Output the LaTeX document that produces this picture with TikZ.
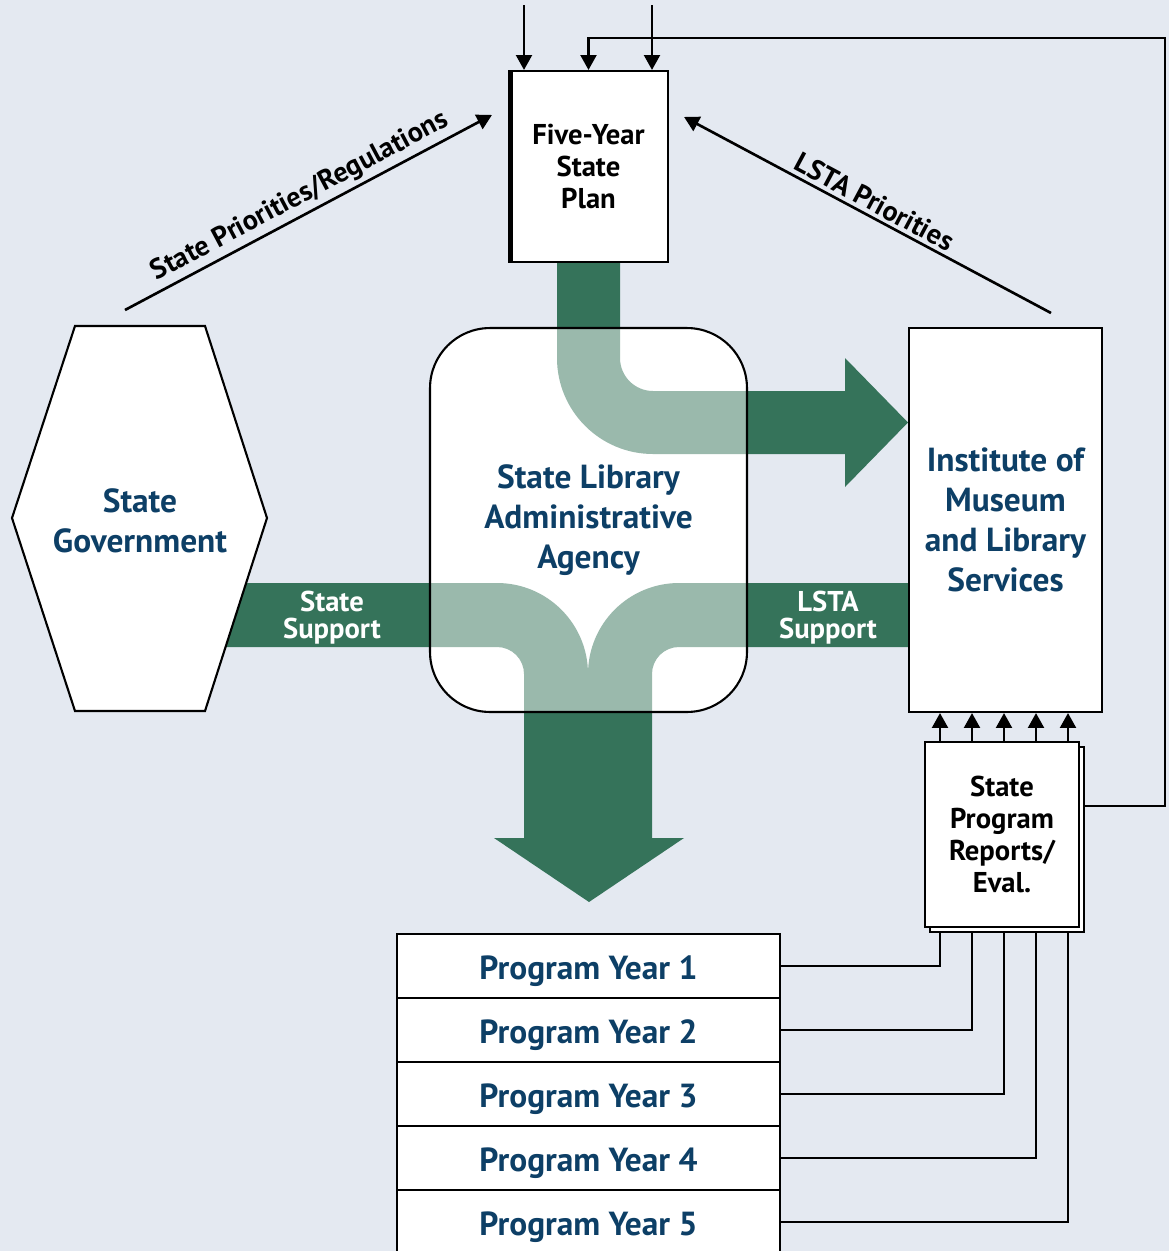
\documentclass[tikz,border=0pt]{standalone}
\usepackage{fontspec}
\setmainfont{PT Sans}
\usetikzlibrary{arrows.meta,calc,shadows}

\definecolor{bgblue}{HTML}{E4E9F1}
\definecolor{bandgreen}{HTML}{35735A}
\definecolor{titleblue}{HTML}{0D3F66}

\tikzset{
  boxline/.style={draw=black,line width=1.2pt,fill=white},
  conn/.style={line width=1.5pt},
  tipend/.style={conn,-{Triangle[length=8.5pt,width=9pt]}},
  tipstart/.style={conn,{Triangle[length=8.5pt,width=9pt]}-},
  bigtxt/.style={text=titleblue,font=\fontsize{19}{22.7}\selectfont\bfseries,align=center},
  smalltxt/.style={font=\fontsize{16.3}{18.1}\selectfont\bfseries,align=center},
  slopetxt/.style={font=\fontsize{16}{18}\selectfont\bfseries},
  bandtxt/.style={text=white,font=\fontsize{16.3}{15.4}\selectfont\bfseries,align=center},
  yearbox/.style={boxline,minimum width=7.66cm,minimum height=1.28cm,bigtxt,text height=19.5pt,text depth=4.5pt},
}

\begin{document}
\begin{tikzpicture}[x=0.02cm,y=-0.02cm]
\fill[bgblue] (0,0) rectangle (1169,1251);
\useasboundingbox (0,0) rectangle (1169,1251);

% white base of the agency box
\node[fill=white,rounded corners=1.2cm,minimum width=6.34cm,minimum height=7.68cm] (slaabg) at (588.5,520) {};

% green bands
\fill[bandgreen] (557,262) -- (620,262) -- (620,358) arc[start angle=180,end angle=90,radius=33]
  -- (845,391) -- (845,358) -- (908,422.5) -- (845,487) -- (845,454) -- (653,454)
  arc[start angle=90,end angle=180,radius=96] -- cycle;
\fill[bandgreen] (200,583) -- (497,583) arc[start angle=270,end angle=360,radius=91]
  -- (588,838) -- (524,838) -- (524,674) arc[start angle=0,end angle=-90,radius=27]
  -- (200,647) -- cycle;
\fill[bandgreen] (910,583) -- (679,583) arc[start angle=270,end angle=180,radius=91]
  -- (588,838) -- (652,838) -- (652,674) arc[start angle=180,end angle=270,radius=27]
  -- (910,647) -- cycle;
\fill[bandgreen] (494,838) -- (684,838) -- (589,902) -- cycle;

% agency box
\node[draw=black,line width=1.2pt,fill=white,fill opacity=0.5,text opacity=1,rounded corners=1.2cm,
  minimum width=6.34cm,minimum height=7.68cm,bigtxt] (slaa) at (588.5,520) {State Library\\Administrative\\Agency};

% state government
\draw[boxline] (12,518) -- (75,326) -- (205,326) -- (267,518) -- (205,711) -- (75,711) -- cycle;
\node[bigtxt] (gov) at (140,521) {State\\Government};

\node[bandtxt] (stsup) at (332,618) {State\\Support};
\node[bandtxt] (lsup) at (828,618) {LSTA\\Support};

% plan, institute, reports
\node[boxline,minimum width=3.18cm,minimum height=3.82cm,smalltxt] (plan) at (588.5,166.5) {Five-Year\\State\\Plan};
\fill (plan.north west) rectangle ($(plan.south west)+(5,0)$);
\node[boxline,minimum width=3.86cm,minimum height=7.68cm,bigtxt] (imls) at (1005.5,520) {Institute of\\Museum\\and Library\\Services};
\node[boxline,line width=0.9pt,copy shadow={shadow xshift=0.1cm,shadow yshift=-0.1cm},
  minimum width=3.08cm,minimum height=3.7cm,smalltxt] (rep) at (1002,834.5) {State\\Program\\Reports/\\Eval.};

\foreach \i in {1,...,5}
  \node[yearbox] (py\i) at (588.5,902+64*\i) {Program Year \i};

% connectors
\coordinate (in1) at (524,5);
\coordinate (in2) at (652,5);
\draw[tipend] (in1) -- (in1 |- plan.north);
\draw[tipend] (in2) -- (in2 |- plan.north);

\coordinate (fbk) at (1165,38);
\draw[tipend] ($(rep.east)+(5,-28.5)$) -| (fbk) -| (plan.north);

\coordinate (govtip) at (125,310);
\draw[tipend] (govtip) -- ($(plan.north west)+(-16,45)$)
  node[midway,sloped,above,slopetxt,inner sep=2pt] {State Priorities/Regulations};
\coordinate (imlstip) at (1051,313);
\draw[tipstart] ($(plan.north east)+(15,47)$) -- (imlstip)
  node[midway,sloped,above,slopetxt,inner sep=2pt] {LSTA Priorities};

\coordinate (repbot) at ($(rep.south)+(0,5)$);
\foreach \x [count=\i] in {940,972,1004,1036,1068} {
  \draw[tipend] (rep.north -| \x,0) -- (imls.south -| \x,0);
  \draw[conn] (repbot -| \x,0) |- (py\i.east);
}
\end{tikzpicture}
\end{document}
